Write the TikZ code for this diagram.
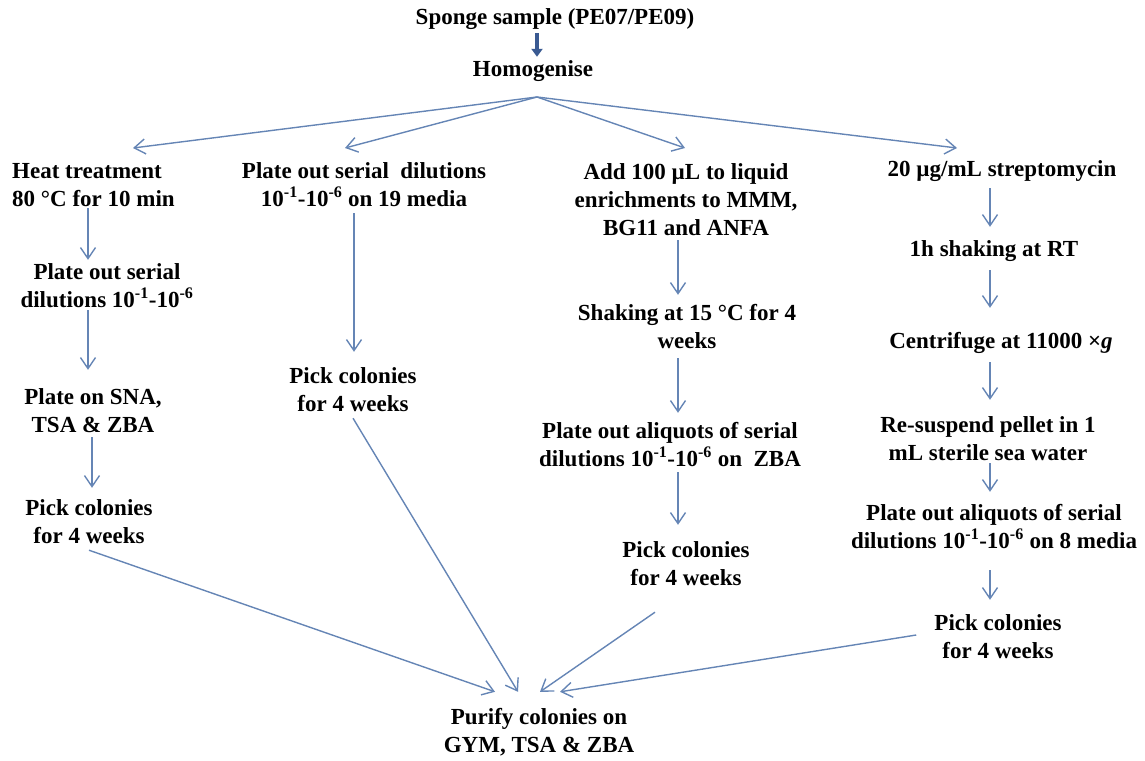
\documentclass[tikz,border=0pt]{standalone}
\usepackage{fontspec}
\setmainfont{Liberation Serif}
\usetikzlibrary{arrows.meta}
\definecolor{arrowblue}{HTML}{6585B5}
\definecolor{darkblue}{HTML}{3A5A92}
\begin{document}
\begin{tikzpicture}[x=1pt,y=-1pt,
  txt/.style={font=\bfseries\fontsize{23}{28}\selectfont, align=center, inner sep=0pt, minimum height=28pt},
  two/.style={txt, minimum height=56pt},
  three/.style={txt, minimum height=84pt},
  arr/.style={draw=arrowblue, line width=1.4pt, -{Straight Barb[length=11pt,width=15pt]}},
  thick arrow/.style={draw=darkblue, line width=3.5pt, -{Triangle[length=8pt,width=11pt]}}
]
\useasboundingbox (0,0) rectangle (1145,760);

% top
\node[txt] (sponge) at (555,19) {Sponge sample (PE07/PE09)};
\node[txt] (homog) at (533,71) {Homogenise};
\coordinate (fan) at (537,97);

% column 1
\node[two, anchor=west, align=left] (heat) at (12,185) {Heat treatment\\80 °C for 10 min};
\node[two] (plate1) at (107,286) {Plate out serial\\dilutions 10\textsuperscript{-1}-10\textsuperscript{-6}};
\node[two] (sna) at (93,411) {Plate on SNA,\\TSA \& ZBA};
\node[two] (pick1) at (89,522) {Pick colonies\\for 4 weeks};

% column 2
\node[two] (plate2) at (364,185) {Plate out serial\ \ dilutions\\10\textsuperscript{-1}-10\textsuperscript{-6} on 19 media};
\node[two] (pick2) at (353,390) {Pick colonies\\for 4 weeks};

% column 3
\node[three] (add) at (686,200) {Add 100 µL to liquid\\enrichments to MMM,\\BG11 and ANFA};
\node[two] (shake) at (687,327) {Shaking at 15 °C for 4\\weeks};
\node[two] (aliq3) at (670,445) {Plate out aliquots of serial\\dilutions 10\textsuperscript{-1}-10\textsuperscript{-6} on\ \ ZBA};
\node[two] (pick3) at (686,564) {Pick colonies\\for 4 weeks};

% column 4
\node[txt] (strep) at (1002,171) {20 µg/mL streptomycin};
\node[txt] (rt) at (994,251) {1h shaking at RT};
\node[txt] (cent) at (1001,343) {Centrifuge at 11000 ×\textit{g}};
\node[two] (resus) at (988,439) {Re-suspend pellet in 1\\mL sterile sea water};
\node[two] (aliq4) at (994,527) {Plate out aliquots of serial\\dilutions 10\textsuperscript{-1}-10\textsuperscript{-6} on 8 media};
\node[two] (pick4) at (998,637) {Pick colonies\\for 4 weeks};

% bottom
\node[two] (purify) at (539,732) {Purify colonies on\\GYM, TSA \& ZBA};

% column arrow x positions and fan tips
\coordinate (c1) at (88,0);
\coordinate (c1b) at (92,0);
\coordinate (c2) at (354,0);
\coordinate (c3) at (678,0);
\coordinate (c4) at (990,0);
\coordinate (tip1) at (133,148);
\coordinate (tip2) at (345,148);
\coordinate (tip3) at (685,148);
\coordinate (tip4) at (957,148);

% thick arrow
\draw[thick arrow] (sponge.south -| fan) -- (homog.north -| fan);

% fan
\draw[arr] (fan) -- (tip1);
\draw[arr] (fan) -- (tip2);
\draw[arr] (fan) -- (tip3);
\draw[arr] (fan) -- (tip4);

% column 1
\draw[arr, shorten <=-5pt, shorten >=-2pt] (heat.south -| c1) -- (plate1.north -| c1);
\draw[arr, shorten <=-4pt, shorten >=13pt] (plate1.south -| c1) -- (sna.north -| c1);
\draw[arr, shorten <=-2pt, shorten >=6pt] (sna.south -| c1b) -- (pick1.north -| c1b);

% column 2
\draw[arr, shorten >=10pt] (plate2.south -| c2) -- (pick2.north -| c2);

% column 3
\draw[arr, shorten <=-2pt, shorten >=4pt] (add.south -| c3) -- (shake.north -| c3);
\draw[arr, shorten <=3pt, shorten >=4pt] (shake.south -| c3) -- (aliq3.north -| c3);
\draw[arr, shorten <=-1pt, shorten >=11pt] (aliq3.south -| c3) -- (pick3.north -| c3);

% column 4
\draw[arr, shorten <=3pt, shorten >=10pt] (strep.south -| c4) -- (rt.north -| c4);
\draw[arr, shorten <=5pt, shorten >=21pt] (rt.south -| c4) -- (cent.north -| c4);
\draw[arr, shorten <=5pt, shorten >=11pt] (cent.south -| c4) -- (resus.north -| c4);
\draw[arr, shorten <=-4pt, shorten >=7pt] (resus.south -| c4) -- (aliq4.north -| c4);
\draw[arr, shorten <=15pt, shorten >=9pt] (aliq4.south -| c4) -- (pick4.north -| c4);

% converging
\draw[arr] (pick1.south) -- ([xshift=-44pt,yshift=12pt]purify.north);
\draw[arr] (pick2.south) -- ([xshift=-21pt,yshift=12pt]purify.north);
\draw[arr] ([xshift=-31pt,yshift=-20pt]pick3.south) -- ([xshift=1pt,yshift=12pt]purify.north);
\draw[arr] ([xshift=-18pt,yshift=2pt]pick4.west) -- ([xshift=21pt,yshift=12pt]purify.north);
\end{tikzpicture}
\end{document}
